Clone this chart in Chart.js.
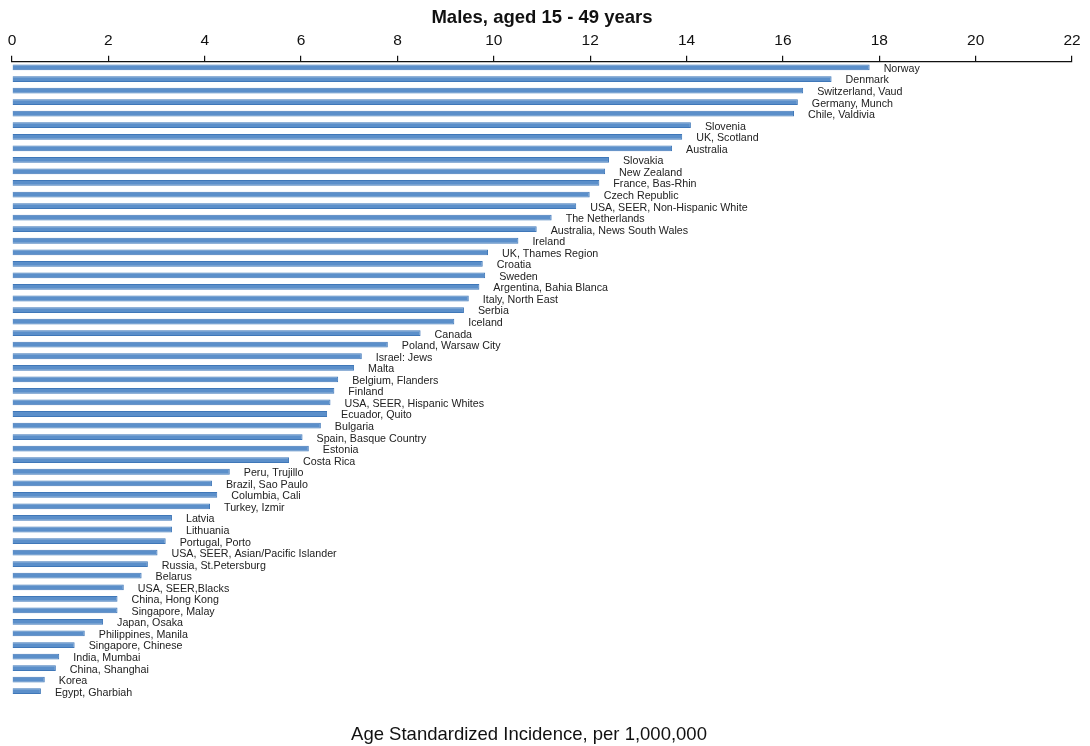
<!DOCTYPE html>
<html>
<head>
<meta charset="utf-8">
<script src="https://cdn.jsdelivr.net/npm/chart.js@4/dist/chart.umd.min.js"></script>
<style>
  html, body { margin: 0; padding: 0; background: #fff; }
  #wrap { width: 1090px; height: 746px; }
</style>
</head>
<body>
<div id="wrap"><canvas id="chart"></canvas></div>
<script>
'use strict';

// registries, top to bottom
const registries = [
  'Norway', 'Denmark', 'Switzerland, Vaud', 'Germany, Munch', 'Chile, Valdivia',
  'Slovenia', 'UK, Scotland', 'Australia', 'Slovakia', 'New Zealand',
  'France, Bas-Rhin', 'Czech Republic', 'USA, SEER, Non-Hispanic White', 'The Netherlands',
  'Australia, News South Wales', 'Ireland', 'UK, Thames Region', 'Croatia', 'Sweden',
  'Argentina, Bahia Blanca', 'Italy, North East', 'Serbia', 'Iceland', 'Canada',
  'Poland, Warsaw City', 'Israel: Jews', 'Malta', 'Belgium, Flanders', 'Finland',
  'USA, SEER, Hispanic Whites', 'Ecuador, Quito', 'Bulgaria', 'Spain, Basque Country',
  'Estonia', 'Costa Rica', 'Peru, Trujillo', 'Brazil, Sao Paulo', 'Columbia, Cali',
  'Turkey, Izmir', 'Latvia', 'Lithuania', 'Portugal, Porto',
  'USA, SEER, Asian/Pacific Islander', 'Russia, St.Petersburg', 'Belarus',
  'USA, SEER,Blacks', 'China, Hong Kong', 'Singapore, Malay', 'Japan, Osaka',
  'Philippines, Manila', 'Singapore, Chinese', 'India, Mumbai', 'China, Shanghai',
  'Korea', 'Egypt, Gharbiah'
];

// incidence per 1,000,000
const incidence = [
  17.80, 17.01, 16.42, 16.31, 16.23,
  14.09, 13.91, 13.70, 12.39, 12.31,
  12.19, 11.99, 11.71, 11.20,
  10.89, 10.51, 9.88, 9.77, 9.82,
  9.70, 9.48, 9.38, 9.18, 8.48,
  7.80, 7.26, 7.10, 6.77, 6.69,
  6.61, 6.54, 6.41, 6.03,
  6.16, 5.75, 4.52, 4.15, 4.26,
  4.11, 3.32, 3.32, 3.19,
  3.02, 2.82, 2.69,
  2.32, 2.19, 2.19, 1.89,
  1.51, 1.30, 0.98, 0.91,
  0.68, 0.60
];

const xTicks = [0, 2, 4, 6, 8, 10, 12, 14, 16, 18, 20, 22];
const xCaption = 'Age Standardized Incidence, per 1,000,000';

const fontFamily = '"Liberation Sans", Arial, Helvetica, sans-serif';

// writes the registry name just right of each bar, plus the axis caption below
const barNames = {
  id: 'barNames',
  afterDatasetsDraw(chart) {
    const ctx = chart.ctx;
    const meta = chart.getDatasetMeta(0);
    const xScale = chart.scales.x;
    ctx.save();
    ctx.font = '10.7px ' + fontFamily;
    ctx.fillStyle = '#222';
    ctx.textAlign = 'left';
    ctx.textBaseline = 'middle';
    meta.data.forEach((bar, i) => {
      const x = xScale.getPixelForValue(incidence[i]) + 14;
      ctx.fillText(registries[i], x, bar.y + 1.5);
    });

    const area = chart.chartArea;
    ctx.font = '18.5px ' + fontFamily;
    ctx.fillStyle = '#111';
    ctx.textAlign = 'center';
    ctx.fillText(xCaption, (area.left + area.right) / 2 - 13, area.bottom + 38);
    ctx.restore();
  }
};

new Chart(document.getElementById('chart'), {
  type: 'bar',
  data: {
    labels: registries,
    datasets: [{
      data: incidence,
      backgroundColor: '#5b8fca',
      borderColor: '#3f77b8',
      borderWidth: 1,
      barPercentage: 0.5,
      categoryPercentage: 1
    }]
  },
  options: {
    indexAxis: 'y',
    responsive: true,
    maintainAspectRatio: false,
    animation: false,
    layout: { padding: { left: 12, right: 18, top: 0, bottom: 49 } },
    plugins: {
      legend: { display: false },
      tooltip: { enabled: false },
      title: {
        display: true,
        text: 'Males, aged 15 - 49 years',
        color: '#111',
        font: { family: fontFamily, size: 18.5, weight: 'bold' },
        padding: { top: 7, bottom: -3.5 }
      }
    },
    scales: {
      x: {
        position: 'top',
        min: 0,
        max: 22,
        afterBuildTicks(scale) {
          scale.ticks = xTicks.map(v => ({ value: v }));
        },
        border: { display: true, color: '#111', width: 1.2 },
        grid: {
          drawOnChartArea: false,
          drawTicks: true,
          tickLength: 6,
          color: '#111',
          lineWidth: 1.2
        },
        ticks: {
          color: '#111',
          padding: 5.7,
          maxRotation: 0,
          font: { family: fontFamily, size: 15.5 }
        }
      },
      y: {
        display: false
      }
    }
  },
  plugins: [barNames]
});
</script>
</body>
</html>
